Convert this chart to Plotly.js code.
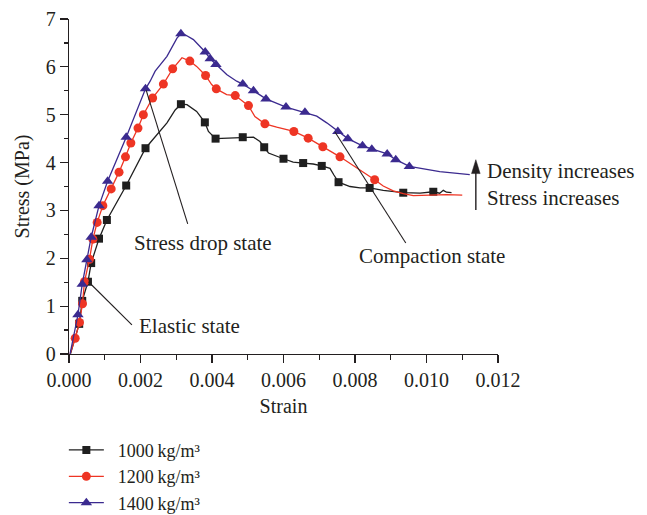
<!DOCTYPE html>
<html>
<head>
<meta charset="utf-8">
<script src="https://cdn.plot.ly/plotly-3.0.1.min.js"></script>
<style>html,body{margin:0;padding:0;background:#fff;}#chart{width:647px;height:515px;}</style>
</head>
<body>
<div id="chart"></div>
<script>
// ---- data ----
const seriesNames = ["\u20021000\u2009kg/m\u00b3", "\u20021200\u2009kg/m\u00b3", "\u20021400\u2009kg/m\u00b3"];

// 1000 kg/m3: marked points
const strain1000 = [0.000285,0.00037,0.00053,0.00062,0.00084,0.00106,0.0016,0.00214,0.00313,0.0038,0.0041,0.00486,0.00546,0.006,0.00655,0.00707,0.00754,0.00841,0.00935,0.01019];
const stress1000 = [0.63,1.11,1.51,1.90,2.41,2.80,3.52,4.30,5.22,4.84,4.50,4.53,4.32,4.08,3.99,3.93,3.59,3.47,3.37,3.39];
// 1000 kg/m3: other points of the curve
const strain1000Path = [0.00004,0.00246,0.00274,0.00297,0.0033,0.00357,0.0039,0.00441,0.00516,0.00534,0.00558,0.00627,0.00683,0.0073,0.00741,0.00786,0.00814,0.00879,0.00982,0.01037,0.01047,0.01056,0.0107];
const stress1000Path = [0,4.59,4.83,5.10,5.21,5.07,4.65,4.51,4.53,4.44,4.20,4.01,3.97,3.88,3.74,3.50,3.47,3.42,3.36,3.36,3.42,3.38,3.37];

// 1200 kg/m3
const strain1200 = [0.000173,0.000293,0.000377,0.000433,0.000573,0.000668,0.000788,0.000947,0.00118,0.0014,0.00158,0.00173,0.00193,0.00208,0.00234,0.00264,0.0029,0.00338,0.00382,0.00412,0.00465,0.00502,0.00548,0.00629,0.00669,0.0071,0.00758,0.00855];
const stress1200 = [0.33,0.66,1.05,1.51,1.98,2.40,2.75,3.10,3.45,3.80,4.12,4.41,4.72,5.00,5.35,5.64,5.96,6.12,5.82,5.54,5.40,5.19,4.81,4.65,4.51,4.33,4.12,3.64];
const strain1200Path = [0.00003,0.00316,0.00357,0.00399,0.00441,0.00478,0.0052,0.00581,0.00879,0.00907,0.00935,0.00963,0.01019,0.01056,0.0110];
const stress1200Path = [0,6.19,6.01,5.63,5.42,5.32,4.96,4.74,3.51,3.41,3.35,3.31,3.32,3.33,3.32];

// 1400 kg/m3
const strain1400 = [0.00025,0.00037,0.0005,0.00062,0.00084,0.00108,0.0016,0.00214,0.00313,0.00381,0.00395,0.00411,0.00486,0.00516,0.00551,0.00607,0.0066,0.00752,0.0078,0.00821,0.00847,0.0089,0.00914,0.00952];
const stress1400 = [0.82,1.46,1.97,2.44,3.10,3.61,4.53,5.54,6.69,6.31,6.17,6.05,5.64,5.50,5.33,5.16,5.05,4.65,4.50,4.35,4.28,4.18,4.06,3.92];
const strain1400Path = [0.00003,0.00227,0.00241,0.00274,0.00302,0.00325,0.00348,0.00367,0.00441,0.00469,0.00693,0.00721,0.01037,0.01121];
const stress1400Path = [0,5.70,5.91,6.22,6.60,6.67,6.57,6.43,5.84,5.70,4.97,4.83,3.81,3.75];

const xTickVals = [0,0.002,0.004,0.006,0.008,0.010,0.012];
const xTickText = ["0.000","0.002","0.004","0.006","0.008","0.010","0.012"];
const yTickVals = [0,1,2,3,4,5,6,7];

// ---- styling ----
const FONT = "'Liberation Serif', 'Times New Roman', serif";
const TXT = "#231f20";
const colors = ["#1f1f1f", "#ee3524", "#3b2a8f"];
const symbols = ["square", "circle", "triangle-up"];
const msize = [8, 9, 10];

function merged(xs, ys, px, py) {
  const pts = xs.map((x, i) => [x, ys[i]]).concat(px.map((x, i) => [x, py[i]]));
  pts.sort((a, b) => a[0] - b[0]);
  return {x: pts.map(p => p[0]), y: pts.map(p => p[1])};
}

const sets = [
  [strain1000, stress1000, strain1000Path, stress1000Path],
  [strain1200, stress1200, strain1200Path, stress1200Path],
  [strain1400, stress1400, strain1400Path, stress1400Path]
];

const traces = [];
sets.forEach((s, k) => {
  const line = merged(s[0], s[1], s[2], s[3]);
  traces.push({x: line.x, y: line.y, mode: 'lines', line: {color: colors[k], width: 1.3},
    showlegend: false, hoverinfo: 'skip', cliponaxis: false});
  traces.push({x: s[0], y: s[1], mode: 'markers',
    marker: {symbol: symbols[k], size: msize[k], color: colors[k]},
    showlegend: false, cliponaxis: false});
});
// legend entries
sets.forEach((s, k) => {
  traces.push({x: [null], y: [null], mode: 'lines+markers', name: seriesNames[k],
    line: {color: colors[k], width: 1.3},
    marker: {symbol: symbols[k], size: msize[k], color: colors[k]}});
});

const annFont = {family: FONT, size: 21, color: TXT};
const lineStyle = {color: TXT, width: 1.1};
// arrow geometry (data units)
const arrowX = 0.01138, arrowBottom = 3.01, arrowTop = 4.06, headLen = 0.29, headHalf = 0.00012;

const layout = {
  width: 647, height: 515,
  margin: {l: 69, r: 149, t: 19, b: 161, autoexpand: false},
  paper_bgcolor: '#fff', plot_bgcolor: '#fff',
  font: {family: FONT, size: 20, color: TXT},
  showlegend: true,
  legend: {x: -0.012, xanchor: 'left', y: -0.232, yanchor: 'top', bgcolor: 'rgba(0,0,0,0)',
    font: {family: FONT, size: 18, color: TXT}, tracegroupgap: 0, itemwidth: 35},
  xaxis: {
    range: [0, 0.012], tickvals: xTickVals, ticktext: xTickText, automargin: false,
    showline: true, linecolor: '#231f20', linewidth: 1.2,
    ticks: 'outside', ticklen: 8, tickwidth: 1.2, tickcolor: '#231f20',
    minor: {ticks: 'outside', ticklen: 5, dtick: 0.001, tickwidth: 1.2, tickcolor: '#231f20', showgrid: false},
    showgrid: false, zeroline: false,
    title: {text: 'Strain', font: {family: FONT, size: 20, color: TXT}, standoff: 8},
    tickfont: {family: FONT, size: 20, color: TXT}
  },
  yaxis: {
    range: [0, 7], tickvals: yTickVals, automargin: false,
    showline: true, linecolor: '#231f20', linewidth: 1.2,
    ticks: 'outside', ticklen: 8, tickwidth: 1.2, tickcolor: '#231f20',
    minor: {ticks: 'outside', ticklen: 4, dtick: 0.5, tickwidth: 1.2, tickcolor: '#231f20', showgrid: false},
    showgrid: false, zeroline: false,
    title: {text: 'Stress (MPa)', font: {family: FONT, size: 20, color: TXT}, standoff: 10},
    tickfont: {family: FONT, size: 20, color: TXT}
  },
  shapes: [
    {type: 'line', xref: 'x', yref: 'y', x0: 0.000545, y0: 1.51, x1: 0.00176, y1: 0.61, line: lineStyle},
    {type: 'line', xref: 'x', yref: 'y', x0: 0.00216, y0: 5.51, x1: 0.00332, y1: 2.72, line: lineStyle},
    {type: 'line', xref: 'x', yref: 'y', x0: 0.00744, y0: 4.64, x1: 0.00942, y1: 2.32, line: lineStyle},
    {type: 'line', xref: 'x', yref: 'y', x0: arrowX, y0: arrowBottom, x1: arrowX, y1: arrowTop - headLen + 0.02,
     line: {color: TXT, width: 1.4}},
    {type: 'path', xref: 'x', yref: 'y',
     path: `M ${arrowX - headHalf} ${arrowTop - headLen} L ${arrowX} ${arrowTop} L ${arrowX + headHalf} ${arrowTop - headLen} Z`,
     fillcolor: TXT, line: {color: TXT, width: 0.5}}
  ],
  annotations: [
    {x: 0.00191, y: 0.586, xref: 'x', yref: 'y', text: 'Elastic state', showarrow: false,
     xanchor: 'left', yanchor: 'middle', font: annFont},
    {x: 0.00375, y: 2.32, xref: 'x', yref: 'y', text: 'Stress drop state', showarrow: false,
     xanchor: 'center', yanchor: 'middle', font: annFont},
    {x: 0.01016, y: 2.05, xref: 'x', yref: 'y', text: 'Compaction state', showarrow: false,
     xanchor: 'center', yanchor: 'middle', font: annFont},
    {x: 0.01163, y: 3.83, xref: 'x', yref: 'y', text: 'Density increases', showarrow: false,
     xanchor: 'left', yanchor: 'middle', font: annFont},
    {x: 0.01163, y: 3.26, xref: 'x', yref: 'y', text: 'Stress increases', showarrow: false,
     xanchor: 'left', yanchor: 'middle', font: annFont}
  ]
};

Plotly.newPlot('chart', traces, layout, {displayModeBar: false, staticPlot: true});
</script>
</body>
</html>
